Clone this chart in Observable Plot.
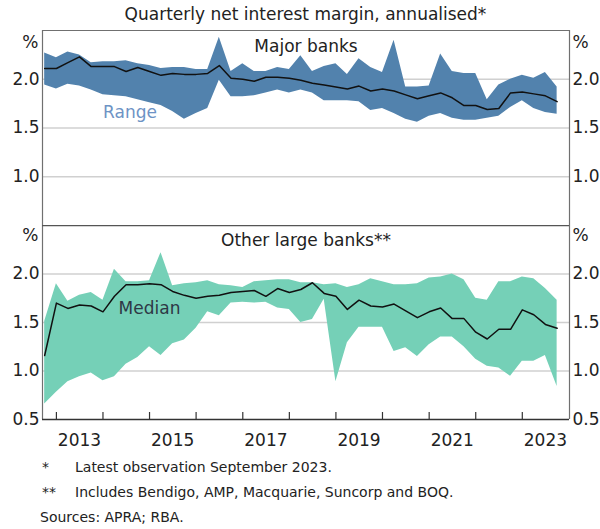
<!DOCTYPE html>
<html><head><meta charset="utf-8">
<script src="https://cdn.jsdelivr.net/npm/d3@7"></script>
<script src="https://cdn.jsdelivr.net/npm/@observablehq/plot@0.6"></script>
<style>
body{margin:0;background:#fff;}
#chart{position:relative;width:600px;height:529px;font-family:"DejaVu Sans",sans-serif;color:#222;overflow:hidden;background:#fff}
.abs{position:absolute;white-space:nowrap}
#title{left:0;width:611px;top:4px;text-align:center;font-size:17px;line-height:20px}
.fn{font-size:14px;line-height:16px}
</style></head>
<body><div id="chart"></div>
<script>
const quarters = ["2012-09","2012-12",
 "2013-03","2013-06","2013-09","2013-12","2014-03","2014-06","2014-09","2014-12",
 "2015-03","2015-06","2015-09","2015-12","2016-03","2016-06","2016-09","2016-12",
 "2017-03","2017-06","2017-09","2017-12","2018-03","2018-06","2018-09","2018-12",
 "2019-03","2019-06","2019-09","2019-12","2020-03","2020-06","2020-09","2020-12",
 "2021-03","2021-06","2021-09","2021-12","2022-03","2022-06","2022-09","2022-12",
 "2023-03","2023-06","2023-09"];

const majorHigh = [2.27,2.22,2.28,2.25,2.17,2.18,2.18,2.19,2.16,2.14,2.11,2.12,2.12,2.10,2.10,2.43,2.08,2.16,2.08,2.08,2.12,2.10,2.24,2.08,2.13,2.16,2.05,2.21,2.12,2.07,2.40,1.92,1.92,1.93,2.26,2.08,2.06,2.06,1.79,1.94,2.00,2.04,2.01,2.07,1.92];
const majorMedian = [2.11,2.11,2.17,2.23,2.13,2.13,2.13,2.08,2.12,2.08,2.04,2.06,2.05,2.05,2.06,2.14,2.01,2.00,1.98,2.02,2.02,2.01,1.99,1.96,1.94,1.92,1.90,1.93,1.88,1.90,1.88,1.84,1.80,1.83,1.86,1.81,1.73,1.73,1.69,1.70,1.86,1.87,1.85,1.83,1.77];
const majorLow = [1.94,1.90,1.95,1.93,1.89,1.84,1.83,1.82,1.79,1.76,1.73,1.67,1.59,1.65,1.70,1.99,1.82,1.82,1.83,1.86,1.89,1.86,1.89,1.86,1.78,1.78,1.78,1.77,1.68,1.70,1.65,1.59,1.56,1.62,1.65,1.60,1.58,1.58,1.60,1.62,1.71,1.78,1.70,1.66,1.64];

const otherHigh = [1.51,1.90,1.72,1.78,1.81,1.73,2.05,1.92,1.92,1.93,2.22,1.88,1.90,1.91,1.93,1.89,1.88,1.86,1.92,1.93,1.94,1.94,1.91,1.91,1.89,1.90,1.86,1.89,1.95,1.92,1.89,1.89,1.90,1.96,1.97,2.00,1.94,1.75,1.73,1.92,1.92,1.97,1.95,1.85,1.73];
const otherMedian = [1.16,1.70,1.645,1.68,1.67,1.61,1.77,1.89,1.89,1.90,1.89,1.82,1.78,1.75,1.77,1.78,1.81,1.82,1.83,1.77,1.85,1.81,1.84,1.91,1.80,1.77,1.635,1.73,1.67,1.66,1.69,1.62,1.55,1.61,1.65,1.54,1.54,1.40,1.33,1.43,1.43,1.63,1.58,1.48,1.44];
const otherLow = [0.66,0.78,0.89,0.94,0.98,0.90,0.94,1.07,1.14,1.25,1.16,1.28,1.32,1.44,1.61,1.57,1.70,1.71,1.70,1.71,1.65,1.635,1.50,1.53,1.74,0.89,1.29,1.45,1.45,1.45,1.20,1.24,1.15,1.27,1.35,1.35,1.25,1.12,1.05,1.03,0.945,1.10,1.10,1.16,0.84];

const yearTicks = [2013,2014,2015,2016,2017,2018,2019,2020,2021,2022,2023];
const yearLabels = [2013,2015,2017,2019,2021,2023];
const yTicksTop = [1.0,1.5,2.0];
const yTicksBottom = [0.5,1.0,1.5,2.0];
const gridTicks = [1.0,1.5,2.0];

const titleText = "Quarterly net interest margin, annualised*";
const panelTop = "Major banks";
const panelBottom = "Other large banks**";
const footnotes = [["*","Latest observation September 2023."],["**","Includes Bendigo, AMP, Macquarie, Suncorp and BOQ."]];
const sourceText = "Sources: APRA; RBA.";

const parse = d3.utcParse("%Y-%m");
const qEnd = s => d3.utcMonth.offset(parse(s), 1);
const major = quarters.map((q,i)=>({date:qEnd(q), lo:majorLow[i], med:majorMedian[i], hi:majorHigh[i]}));
const other = quarters.map((q,i)=>({date:qEnd(q), lo:otherLow[i], med:otherMedian[i], hi:otherHigh[i]}));
const yDate = y => new Date(Date.UTC(y,0,1));
const midYear = y => new Date(Date.UTC(y,6,1));
const xDomain = [new Date(Date.UTC(2012,8,14)), new Date(Date.UTC(2024,0,6))];
const yDomain = [0.5,2.5];

const FS = 17;
const blue = "#5282ad", teal = "#75d0b7";
const gridStyle = {stroke:"#d0d0d0", strokeOpacity:1, strokeWidth:1.3};
const frameStroke = "#707070";
const base = {
  width:600, marginLeft:42, marginRight:31,
  style:{fontFamily:"DejaVu Sans, sans-serif", fontSize:FS+"px", color:"#222", background:"transparent"}
};

const topPlot = Plot.plot({
  ...base, height:225, marginTop:30, marginBottom:0,
  x:{type:"utc", domain:xDomain, axis:null},
  y:{domain:yDomain},
  marks:[
    Plot.gridY(gridTicks, gridStyle),
    Plot.areaY(major, {x:"date", y1:"lo", y2:"hi", fill:blue}),
    Plot.lineY(major, {x:"date", y:"med", stroke:"#111", strokeWidth:1.5}),
    Plot.axisY(yTicksTop, {anchor:"left", tickSize:0, tickPadding:3, tickFormat:d=>d.toFixed(1), fontSize:FS, label:null, fill:"#222"}),
    Plot.axisY(yTicksTop, {anchor:"right", tickSize:0, tickPadding:3, tickFormat:d=>d.toFixed(1), fontSize:FS, label:null, fill:"#222"}),
    Plot.text(["%"], {text:d=>d, frameAnchor:"top-left", textAnchor:"end", dx:-4, lineAnchor:"top", dy:5, fontSize:FS, fill:"#222"}),
    Plot.text(["%"], {text:d=>d, frameAnchor:"top-right", textAnchor:"start", dx:3, lineAnchor:"top", dy:5, fontSize:FS, fill:"#222"}),
    Plot.text([panelTop], {text:d=>d, frameAnchor:"top", lineAnchor:"top", dy:9, fontSize:FS, fill:"#222"}),
    Plot.text([{date:new Date(Date.UTC(2014,7,1)), v:1.66, t:"Range"}], {x:"date", y:"v", text:"t", fontSize:FS, fill:"#6d93c5"}),
    Plot.ruleX(xDomain, {stroke:frameStroke, strokeWidth:1.2}),
    Plot.ruleY([yDomain[1]], {stroke:frameStroke, strokeWidth:1.2})
  ]
});

const bottomPlot = Plot.plot({
  ...base, height:224, marginTop:0, marginBottom:30,
  x:{type:"utc", domain:xDomain},
  y:{domain:yDomain},
  marks:[
    Plot.gridY(gridTicks, gridStyle),
    Plot.areaY(other, {x:"date", y1:"lo", y2:"hi", fill:teal}),
    Plot.lineY(other, {x:"date", y:"med", stroke:"#111", strokeWidth:1.5}),
    Plot.axisY(yTicksBottom, {anchor:"left", tickSize:0, tickPadding:3, tickFormat:d=>d.toFixed(1), fontSize:FS, label:null, fill:"#222"}),
    Plot.axisY(yTicksBottom, {anchor:"right", tickSize:0, tickPadding:3, tickFormat:d=>d.toFixed(1), fontSize:FS, label:null, fill:"#222"}),
    Plot.text(["%"], {text:d=>d, frameAnchor:"top-left", textAnchor:"end", dx:-4, lineAnchor:"top", dy:3, fontSize:FS, fill:"#222"}),
    Plot.text(["%"], {text:d=>d, frameAnchor:"top-right", textAnchor:"start", dx:3, lineAnchor:"top", dy:3, fontSize:FS, fill:"#222"}),
    Plot.text([panelBottom], {text:d=>d, frameAnchor:"top", lineAnchor:"top", dy:8, fontSize:FS, fill:"#222"}),
    Plot.text([{date:new Date(Date.UTC(2015,0,1)), v:1.645, t:"Median"}], {x:"date", y:"v", text:"t", fontSize:FS, fill:"#2e3846"}),
    Plot.tickX(yearTicks.map(yDate), {x:d=>d, insetTop:187, stroke:"#333", strokeWidth:1.2}),
    Plot.axisX(yearLabels.map(midYear), {anchor:"bottom", tickSize:0, tickPadding:14, tickFormat:d3.utcFormat("%Y"), fontSize:FS, label:null, fill:"#222"}),
    Plot.ruleX(xDomain, {stroke:frameStroke, strokeWidth:1.2}),
    Plot.ruleY([yDomain[1]], {stroke:"#555", strokeWidth:1.4}),
    Plot.ruleY([yDomain[0]], {stroke:"#333", strokeWidth:1.6})
  ]
});

const chart = document.getElementById("chart");
for (const [el, t] of [[topPlot,0],[bottomPlot,225]]) {
  el.style.position = "absolute"; el.style.left = "0px"; el.style.top = t+"px";
  chart.appendChild(el);
}
const title = document.createElement("div");
title.className = "abs"; title.id = "title"; title.textContent = titleText;
chart.appendChild(title);
footnotes.forEach(([mark, txt], i) => {
  const m = document.createElement("div");
  m.className = "abs fn"; m.style.left = "42px"; m.style.top = (459 + i*25) + "px"; m.textContent = mark;
  const t = document.createElement("div");
  t.className = "abs fn"; t.style.left = "75px"; t.style.top = (459 + i*25) + "px"; t.textContent = txt;
  chart.appendChild(m); chart.appendChild(t);
});
const src = document.createElement("div");
src.className = "abs fn"; src.style.left = "40px"; src.style.top = "509px"; src.textContent = sourceText;
chart.appendChild(src);
</script>
</body></html>
